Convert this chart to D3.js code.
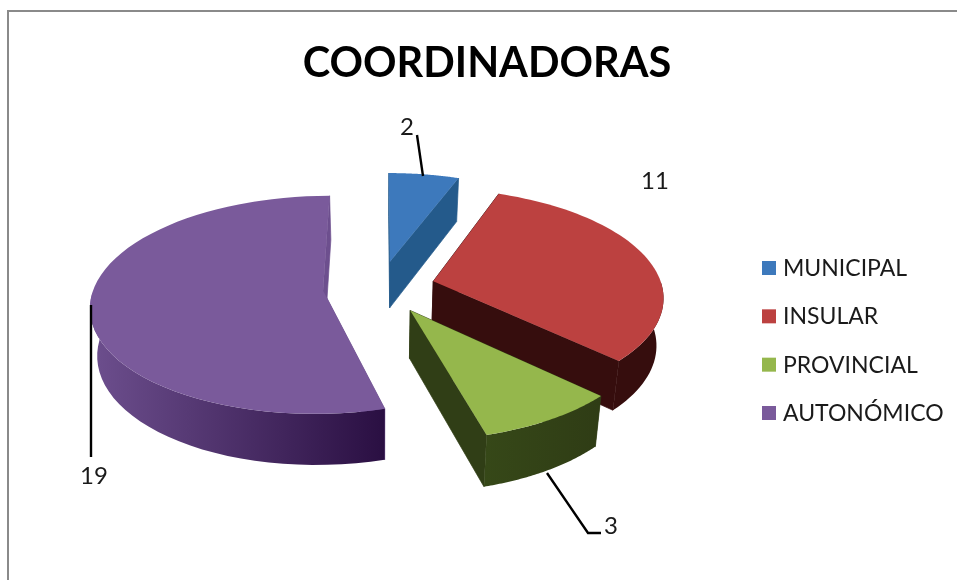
<!DOCTYPE html>
<html><head><meta charset="utf-8">
<style>html,body{margin:0;padding:0;background:#fff}svg{display:block;filter:blur(0.4px)}text{font-family:Lato,"Open Sans",sans-serif;fill:#1a1a1a}</style>
<script src="https://cdn.jsdelivr.net/npm/d3@7"></script></head><body>
<script>
const categories=["MUNICIPAL","INSULAR","PROVINCIAL","AUTONÓMICO"];
const values=[2,11,3,19];
const explode=[0.25,0.24,0.25,0.25];
const topColors=["#3d79bc","#bc4140","#95b74c","#7a5a9b"];
const wallFrom=["#245a8b","#360d0d","#364818","#6d4f8e"];
const wallTo=["#245a8b","#360d0d","#2f3c15","#2a0f42"];
const sideColors=["#245a8b","#360d0d","#303e16","#6d4f8e"];
const labelPos=[[407,135],[655,189],[611,534],[94,484]];
const leaders=[[[417,135],[423,176]],[],[[547,473],[588,533],[601,533]],[[91,305],[91,457]]];
const title="COORDINADORAS";

const W=957,H=580,cx=380,cy=287,R=229,tilt=0.464,k=0.13,D=47;
const svg=d3.select("body").append("svg").attr("width",W).attr("height",H);
const defs=svg.append("defs");
svg.append("path").attr("d",`M8 580V11H${W}`).attr("fill","none").attr("stroke","#8a8a8a").attr("stroke-width",2);

const arcs=d3.pie().sort(null).startAngle(0).endAngle(2*Math.PI)(values);
function proj(off,a,rf,z){
  const u=off.u+rf*Math.sin(a),v=off.v-rf*Math.cos(a),s=1/(1-k*v),zs=1-0.025*z;
  return [cx+R*u*s*zs,cy+R*tilt*v*s*zs+D*z*s];
}
const line=d3.line();
const chart=svg.append("g");
arcs.forEach((d,i)=>{
  const mid=(d.startAngle+d.endAngle)/2;
  const off={u:explode[i]*Math.sin(mid),v:-explode[i]*Math.cos(mid)};
  const angles=d3.range(0,61).map(j=>d.startAngle+(d.endAngle-d.startAngle)*j/60);
  const topArc=angles.map(a=>proj(off,a,1,0));
  const apex=proj(off,0,0,0),apexB=proj(off,0,0,1);
  const gs=chart.append("g");
  [angles[0],angles[60]].forEach(a=>{
    gs.append("path").attr("d",line([apex,proj(off,a,1,0),proj(off,a,1,1),apexB])+"Z")
      .attr("fill",sideColors[i]).attr("stroke",sideColors[i]).attr("stroke-width",0.7);
  });
  const front=angles.filter(a=>Math.cos(a)<=0.02);
  if(front.length){
    const wt=front.map(a=>proj(off,a,1,0)),wb=front.map(a=>proj(off,a,1,1));
    const xs=wt.concat(wb).map(p=>p[0]);
    const g=defs.append("linearGradient").attr("id","w"+i).attr("gradientUnits","userSpaceOnUse")
      .attr("x1",d3.min(xs)).attr("x2",d3.max(xs)).attr("y1",0).attr("y2",0);
    g.append("stop").attr("offset",0).attr("stop-color",wallFrom[i]);
    g.append("stop").attr("offset",1).attr("stop-color",wallTo[i]);
    gs.append("path").attr("d",line(wt.concat(wb.slice().reverse()))+"Z").attr("fill",`url(#w${i})`);
  }
  gs.append("path").attr("d",line([apex].concat(topArc))+"Z").attr("fill",topColors[i]);
});

const lg=svg.append("g");
leaders.forEach(l=>{ if(l.length) lg.append("path").attr("d",line(l)).attr("fill","none").attr("stroke","#000").attr("stroke-width",2.4);});
values.forEach((v,i)=>{
  lg.append("text").attr("x",labelPos[i][0]).attr("y",labelPos[i][1]).attr("text-anchor","middle").attr("font-size",24).text(v);
});
svg.append("text").attr("x",487).attr("y",77).attr("text-anchor","middle").attr("font-size",41.5).attr("font-weight",700).style("fill","#000").text(title);
const legendY=d3.scalePoint().domain(categories).range([268,413]);
const leg=svg.append("g");
categories.forEach((c,i)=>{
  leg.append("rect").attr("x",762).attr("y",legendY(c)-7).attr("width",14).attr("height",14).attr("fill",topColors[i]);
  leg.append("text").attr("x",783).attr("y",legendY(c)+8).attr("font-size",23).text(c);
});
</script></body></html>
